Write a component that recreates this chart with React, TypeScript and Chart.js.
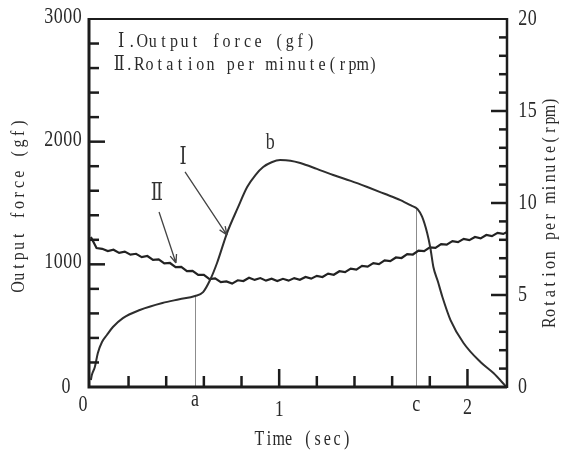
import React, { useEffect, useRef } from "react";
import { Chart, registerables } from "chart.js";

Chart.register(...registerables);

// Curve I: output force (gf) vs time (sec)
const forceTimes = [0, 0.005, 0.021, 0.037, 0.059, 0.085, 0.117, 0.17, 0.26, 0.38, 0.47, 0.553, 0.596, 0.633, 0.67, 0.723, 0.78, 0.83, 0.875, 0.915, 0.96, 1.005, 1.06, 1.112, 1.2, 1.287, 1.38, 1.468, 1.56, 1.644, 1.7, 1.735, 1.759, 1.786, 1.803, 1.819, 1.843, 1.867, 1.91, 1.979, 2.069, 2.138, 2.207];
const forceValues = [57, 98, 163, 277, 367, 424, 489, 562, 628, 685, 715, 742, 774, 872, 1011, 1255, 1460, 1630, 1730, 1793, 1832, 1850, 1845, 1826, 1778, 1728, 1680, 1630, 1575, 1524, 1480, 1450, 1388, 1255, 1133, 978, 860, 734, 546, 359, 204, 114, 0];

// Curve II: rotation per minute (rpm) vs time (sec)
const rpmTimes = [0, 0.03, 0.06, 0.09, 0.12, 0.15, 0.18, 0.21, 0.24, 0.27, 0.3, 0.33, 0.36, 0.39, 0.42, 0.45, 0.48, 0.51, 0.54, 0.57, 0.6, 0.63, 0.66, 0.69, 0.72, 0.75, 0.78, 0.81, 0.84, 0.87, 0.9, 0.93, 0.96, 0.99, 1.02, 1.05, 1.08, 1.11, 1.14, 1.17, 1.2, 1.23, 1.26, 1.29, 1.32, 1.35, 1.38, 1.41, 1.44, 1.47, 1.5, 1.53, 1.56, 1.59, 1.62, 1.65, 1.68, 1.71, 1.74, 1.77, 1.8, 1.83, 1.86, 1.89, 1.92, 1.95, 1.98, 2.01, 2.04, 2.07, 2.1, 2.13, 2.16, 2.19, 2.21];
const rpmValues = [8.15, 7.55, 7.51, 7.39, 7.46, 7.29, 7.36, 7.19, 7.24, 7.06, 7.12, 6.91, 6.94, 6.72, 6.74, 6.52, 6.53, 6.3, 6.31, 6.09, 6.09, 5.86, 5.9, 5.7, 5.74, 5.62, 5.8, 5.76, 5.94, 5.82, 5.92, 5.78, 5.89, 5.76, 5.88, 5.78, 5.92, 5.83, 5.98, 5.89, 6.04, 5.98, 6.16, 6.1, 6.29, 6.24, 6.43, 6.38, 6.58, 6.54, 6.73, 6.68, 6.88, 6.84, 7.04, 7.01, 7.22, 7.2, 7.41, 7.38, 7.59, 7.56, 7.77, 7.74, 7.93, 7.87, 8.05, 7.98, 8.15, 8.08, 8.26, 8.2, 8.38, 8.32, 8.42];

// Axes
const timeMin = -0.01;
const timeMax = 2.21;
const forceMax = 3000;
const rpmMax = 20;
const timeMinorTicks = [0.2, 0.4, 0.6, 0.8, 1.2, 1.4, 1.6, 1.8];
const timeMajorTicks = [1, 2];
const timeLabelValues = [0, 0.553, 1, 1.728, 2];
const timeLabelTexts = ["0", "a", "1", "c", "2"];
const forceMinorTicks = [200, 400, 600, 800, 1200, 1400, 1600, 1800, 2200, 2400, 2600, 2800];
const forceMajorTicks = [1000, 2000];
const forceLabelValues = [0, 1000, 2000, 3000];
const rpmMinorTicks = [1, 2, 3, 4, 6, 7, 8, 9, 11, 12, 13, 14, 16, 17, 18, 19];
const rpmMajorTicks = [5, 10, 15];
const rpmLabelValues = [0, 5, 10, 15, 20];

// Marker lines a and c (time, force at top)
const markTimes = [0.553, 1.728];
const markForces = [742, 1455];

// Texts
const legendTexts = ["Ⅰ.Output force (gf)", "Ⅱ.Rotation per minute(rpm)"];
const xTitle = "Time (sec)";
const leftTitle = "Output force (gf)";
const rightTitle = "Rotation per minute(rpm)";

// Annotations (data coords: time, force)
const noteTexts = ["b", "Ⅰ", "Ⅱ"];
const noteTimes = [0.952, 0.489, 0.351];
const noteForces = [1989, 1867, 1575];
const arrowFromTimes = [0.5, 0.362];
const arrowFromForces = [1753, 1427];
const arrowToTimes = [0.723, 0.452];
const arrowToForces = [1239, 1011];

const FONT = '"Liberation Serif", "DejaVu Serif", serif';
const INK = "#1c1c1c";

// Draws text; when a width is given, characters are placed in equal cells (monospace look).
function drawText(
  ctx: CanvasRenderingContext2D,
  text: string,
  x: number,
  y: number,
  o: { size: number; align?: "left" | "center" | "right"; sy?: number; width?: number; rot?: number; color?: string }
) {
  ctx.save();
  ctx.translate(x, y);
  if (o.rot) ctx.rotate(o.rot);
  ctx.scale(1, o.sy ?? 1.25);
  ctx.font = `${o.size}px ${FONT}`;
  ctx.textBaseline = "middle";
  ctx.fillStyle = o.color ?? "#2a2a2a";
  const chars = Array.from(text);
  if (o.width) {
    const cell = o.width / chars.length;
    let start = 0;
    if (o.align === "center") start = -o.width / 2;
    else if (o.align === "right") start = -o.width;
    ctx.textAlign = "center";
    chars.forEach((ch, i) => {
      ctx.fillText(ch, start + cell * (i + 0.5), 0);
    });
    ctx.restore();
    return;
  }
  ctx.textAlign = o.align ?? "left";
  ctx.fillText(text, 0, 0);
  ctx.restore();
}

function arrow(ctx: CanvasRenderingContext2D, x1: number, y1: number, x2: number, y2: number) {
  ctx.beginPath();
  ctx.moveTo(x1, y1);
  ctx.lineTo(x2, y2);
  const a = Math.atan2(y2 - y1, x2 - x1);
  const L = 9;
  const s = 0.38;
  ctx.moveTo(x2, y2);
  ctx.lineTo(x2 - L * Math.cos(a - s), y2 - L * Math.sin(a - s));
  ctx.moveTo(x2, y2);
  ctx.lineTo(x2 - L * Math.cos(a + s), y2 - L * Math.sin(a + s));
  ctx.stroke();
}

const decorPlugin = {
  id: "decor",
  beforeDatasetsDraw(chart: any) {
    const { ctx, chartArea: ca, scales } = chart;
    const sx = scales.x;
    const sy = scales.y;
    ctx.save();
    ctx.strokeStyle = "#8c8c8c";
    ctx.lineWidth = 1;
    markTimes.forEach((t, i) => {
      const px = Math.round(sx.getPixelForValue(t)) + 0.5;
      ctx.beginPath();
      ctx.moveTo(px, ca.bottom);
      ctx.lineTo(px, sy.getPixelForValue(markForces[i]));
      ctx.stroke();
    });
    ctx.restore();
  },
  afterDatasetsDraw(chart: any) {
    const { ctx, chartArea: ca, scales } = chart;
    const sx = scales.x;
    const sy = scales.y;
    const sr = scales.y1;
    ctx.save();
    ctx.strokeStyle = INK;
    ctx.lineCap = "butt";

    // frame
    ctx.lineWidth = 2;
    ctx.beginPath();
    ctx.moveTo(ca.left, ca.top);
    ctx.lineTo(ca.right, ca.top);
    ctx.stroke();
    ctx.lineWidth = 3;
    ctx.beginPath();
    ctx.moveTo(ca.left, ca.top - 1);
    ctx.lineTo(ca.left, ca.bottom);
    ctx.lineTo(ca.right, ca.bottom);
    ctx.stroke();
    ctx.lineWidth = 2.5;
    ctx.beginPath();
    ctx.moveTo(ca.right, ca.top - 1);
    ctx.lineTo(ca.right, ca.bottom + 1);
    ctx.stroke();

    // ticks (pointing inward)
    ctx.lineWidth = 2.5;
    const tick = (x1: number, y1: number, x2: number, y2: number) => {
      ctx.beginPath();
      ctx.moveTo(x1, y1);
      ctx.lineTo(x2, y2);
      ctx.stroke();
    };
    forceMinorTicks.forEach((v) => {
      const py = sy.getPixelForValue(v);
      tick(ca.left, py, ca.left + 10, py);
    });
    forceMajorTicks.forEach((v) => {
      const py = sy.getPixelForValue(v);
      tick(ca.left, py, ca.left + 16, py);
    });
    rpmMinorTicks.forEach((v) => {
      const py = sr.getPixelForValue(v);
      tick(ca.right, py, ca.right - 8, py);
    });
    rpmMajorTicks.forEach((v) => {
      const py = sr.getPixelForValue(v);
      tick(ca.right, py, ca.right - 16, py);
    });
    timeMinorTicks.forEach((v) => {
      const px = sx.getPixelForValue(v);
      tick(px, ca.bottom, px, ca.bottom - 11);
    });
    timeMajorTicks.forEach((v) => {
      const px = sx.getPixelForValue(v);
      tick(px, ca.bottom, px, ca.bottom - 18);
    });

    // tick labels
    forceLabelValues.forEach((v) => {
      const py = sy.getPixelForValue(v);
      if (v === 0) drawText(ctx, String(v), ca.left - 23, py, { size: 18, align: "center" });
      else drawText(ctx, String(v), ca.left - 7, py - 2, { size: 18, align: "right", width: 38 });
    });
    rpmLabelValues.forEach((v) => {
      const py = sr.getPixelForValue(v);
      const s = String(v);
      drawText(ctx, s, ca.right + 11, py, { size: 18, align: "left", width: s.length > 1 ? 19 : undefined });
    });
    const xLabelDy = [18, 13, 23, 18, 21];
    const xLabelDx = [-8, 0, 0, 0, 0];
    timeLabelValues.forEach((v, i) => {
      const px = sx.getPixelForValue(v) + xLabelDx[i];
      drawText(ctx, timeLabelTexts[i], px, ca.bottom + xLabelDy[i], { size: 18, align: "center" });
    });

    // axis titles
    drawText(ctx, xTitle, 303, 440, { size: 16, align: "center", width: 97, sy: 1.3 });
    drawText(ctx, leftTitle, 19, 205, { size: 16, align: "center", width: 174, sy: 1.2, rot: -Math.PI / 2 });
    drawText(ctx, rightTitle, 550, 212, { size: 16, align: "center", width: 231, sy: 1.2, rot: -Math.PI / 2 });

    // legend
    drawText(ctx, legendTexts[0], 116, 42, { size: 16, align: "left", width: 200, sy: 1.22 });
    drawText(ctx, legendTexts[1], 114, 65, { size: 16, align: "left", width: 264, sy: 1.22 });

    // annotations
    noteTexts.forEach((t, i) => {
      drawText(ctx, t, sx.getPixelForValue(noteTimes[i]), sy.getPixelForValue(noteForces[i]), {
        size: 18,
        align: "center",
        sy: 1.3,
        color: "#333",
      });
    });
    ctx.strokeStyle = "#444";
    ctx.lineWidth = 1.3;
    arrowFromTimes.forEach((t, i) => {
      arrow(
        ctx,
        sx.getPixelForValue(t),
        sy.getPixelForValue(arrowFromForces[i]),
        sx.getPixelForValue(arrowToTimes[i]),
        sy.getPixelForValue(arrowToForces[i])
      );
    });
    ctx.restore();
  },
};

export default function App() {
  const ref = useRef<HTMLCanvasElement | null>(null);
  useEffect(() => {
    if (!ref.current) return;
    const chart = new Chart(ref.current, {
      type: "line",
      data: {
        datasets: [
          {
            label: "Output force (gf)",
            data: forceTimes.map((t, i) => ({ x: t, y: forceValues[i] })),
            yAxisID: "y",
            borderColor: "#2e2e2e",
            borderWidth: 2,
            pointRadius: 0,
            cubicInterpolationMode: "monotone",
            fill: false,
          },
          {
            label: "Rotation per minute (rpm)",
            data: rpmTimes.map((t, i) => ({ x: t, y: rpmValues[i] })),
            yAxisID: "y1",
            borderColor: "#222222",
            borderWidth: 2.2,
            pointRadius: 0,
            tension: 0,
            fill: false,
          },
        ],
      },
      options: {
        animation: false,
        responsive: false,
        devicePixelRatio: 1,
        layout: { padding: { left: 89, right: 64, top: 19, bottom: 67 } },
        plugins: { legend: { display: false }, tooltip: { enabled: false } },
        scales: {
          x: { type: "linear", min: timeMin, max: timeMax, display: false },
          y: { type: "linear", min: 0, max: forceMax, display: false },
          y1: { type: "linear", min: 0, max: rpmMax, display: false },
        },
      },
      plugins: [decorPlugin],
    } as any);
    return () => chart.destroy();
  }, []);
  return (
    <div style={{ position: "fixed", left: 0, top: 0, width: 571, height: 454, background: "#fff" }}>
      <canvas ref={ref} width={571} height={454} style={{ display: "block" }} />
    </div>
  );
}
